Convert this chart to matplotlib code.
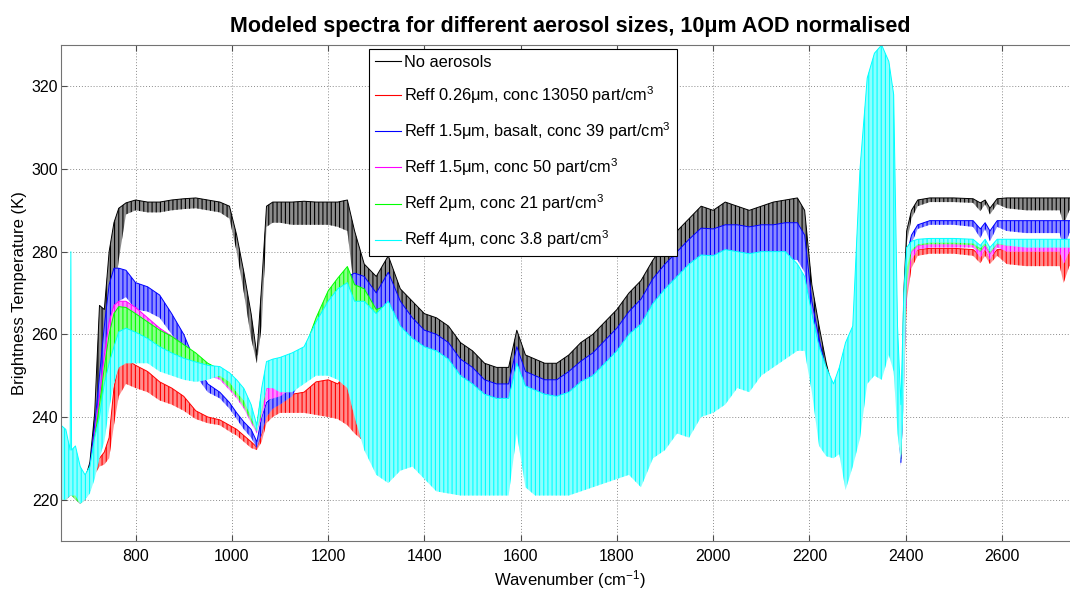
import matplotlib
matplotlib.use("Agg")
import matplotlib.pyplot as plt
from matplotlib.colors import to_rgb
from matplotlib.lines import Line2D

plt.rcParams["font.family"] = ["Liberation Sans", "DejaVu Sans"]
plt.rcParams["mathtext.fontset"] = "custom"
plt.rcParams["mathtext.rm"] = "Liberation Sans"
plt.rcParams["mathtext.it"] = "Liberation Sans:italic"
plt.rcParams["mathtext.bf"] = "Liberation Sans:bold"
plt.rcParams["hatch.linewidth"] = 0.8

# Wavenumber nodes (cm-1) where the upper / lower envelope of each spectrum was sampled
wavenumber = [
    645, 655, 664, 665.5, 667, 675, 685, 695, 705, 715,
    725, 735, 745, 755, 765, 780, 800, 825, 850, 875,
    900, 925, 950, 975, 995, 1010, 1025, 1040, 1052, 1062,
    1072, 1085, 1100, 1125, 1150, 1175, 1200, 1220, 1240, 1255,
    1275, 1300, 1325, 1350, 1375, 1400, 1425, 1450, 1475, 1500,
    1525, 1550, 1575, 1592, 1610, 1630, 1650, 1675, 1700, 1725,
    1750, 1775, 1800, 1825, 1850, 1875, 1900, 1925, 1950, 1975,
    2000, 2025, 2050, 2075, 2100, 2125, 2150, 2175, 2190, 2205,
    2220, 2235, 2250, 2262, 2275, 2290, 2305, 2320, 2335, 2350,
    2365, 2375, 2383, 2390, 2396, 2402, 2412, 2425, 2450, 2500,
    2540, 2555, 2565, 2575, 2590, 2610, 2650, 2700, 2720, 2728,
    2740, 2760,
]

# No aerosols
black_top = [
    232, 234, 230, 230, 230, 230, 226, 225, 229, 241,
    267, 266, 280, 287, 290.5, 291.8, 292.5, 292, 292, 292.5,
    292.8, 293, 292.5, 292, 291, 284, 275, 265, 255, 272,
    291, 292, 292, 292, 292.2, 292, 292, 292, 292.5, 285,
    277, 274, 279, 271, 268, 265, 264, 262, 258, 256,
    253, 252, 252, 261, 255, 254, 253, 253, 255, 258,
    260, 263, 266, 270, 273, 278, 282, 285, 288, 291,
    290, 292, 291, 290, 291, 292, 292.5, 293, 290, 272,
    262, 253, 246, 238, 236, 240, 250, 265, 270, 270,
    270, 265, 245, 230, 270, 285, 290, 292.5, 293, 293,
    292.8, 291.8, 292.5, 290.5, 292.8, 293, 293, 293, 293, 293,
    293, 293,
]
black_bot = [
    220, 220, 221, 221, 221, 220, 219, 220, 222, 226,
    240, 245, 258, 268, 278, 289, 290, 289.5, 289.5, 290,
    290.3, 290.5, 290, 289.5, 288, 280, 270, 259, 253, 262,
    286, 287, 287, 286.5, 286.5, 286.5, 286.5, 286, 285, 270,
    262, 262, 265, 262, 259, 256, 255, 253, 250, 248,
    246, 245, 245, 252, 248, 247, 246, 246, 247, 250,
    252, 255, 258, 262, 265, 269, 273, 276, 279, 282,
    282, 283, 283, 282, 283, 284, 284, 284, 280, 262,
    253, 244, 240, 235, 232, 236, 246, 260, 262, 262,
    264, 258, 240, 229, 250, 282, 288, 291, 292, 292,
    291.8, 289.8, 291.5, 289, 291.5, 290.5, 290, 290, 290, 286.5,
    290, 290,
]

# Reff 0.26um
red_top = [
    230, 232, 228, 228, 228, 228, 224, 223, 226, 229,
    230, 231.5, 235, 247, 253, 254, 252.5, 251, 248.5, 247,
    245, 241.5, 240, 239.3, 238, 237, 235.5, 234, 232.7, 236,
    241, 243.5, 245, 245.5, 246, 248.5, 249, 248, 251, 252.6,
    252, 250, 250, 249, 248, 246, 246, 245, 243, 242,
    240, 239.5, 239.5, 248, 242, 241, 240.5, 240, 241, 243,
    245, 248, 251, 255, 257.5, 262, 265.5, 268.5, 271.5, 273.5,
    273.5, 275, 274.5, 274, 274.5, 274.5, 274.5, 272, 269, 260,
    254, 248, 244, 241, 238, 242, 252, 266, 270, 270,
    270, 266, 246, 230, 255, 275, 279, 280.5, 280.8, 280.8,
    280.5, 279, 280.5, 278.5, 280.5, 280.5, 280.5, 280.5, 280.5, 280.5,
    280.5, 280.5,
]
red_bot = [
    220, 220, 221, 221, 221, 220, 219, 220, 222, 226,
    228, 228.5, 230, 238, 245, 248, 247, 246, 244, 243,
    241.5, 239.5, 238.5, 238, 236.5, 235.5, 234, 232.5, 232, 234,
    238.5, 240, 241, 241, 241, 240.5, 240, 239.5, 238, 236,
    234, 234, 229, 229, 230, 230, 236, 235, 233, 232,
    230, 229.5, 229.5, 238, 232, 231, 230.5, 230, 231, 233,
    235, 238, 241, 245, 247.5, 252, 255.5, 258.5, 261.5, 263.5,
    263.5, 265, 264.5, 264, 264.5, 264.5, 264.5, 262, 259, 252,
    248, 243, 238, 236, 232, 236, 246, 260, 262, 262,
    264, 258, 240, 229, 245, 268, 276, 279, 279.5, 279.5,
    279, 277.2, 279, 277, 279, 277, 276.5, 276.5, 276.5, 272.4,
    276.5, 276.5,
]

# Reff 1.5um, basalt
blue_top = [
    232, 234, 230, 230, 230, 230, 226, 225, 228, 238,
    250, 262, 272, 276, 276, 275.5, 272.5, 271.5, 269.5, 265,
    260, 253, 248, 246, 243.5, 241, 238.8, 237, 234, 240,
    243.5, 245, 246, 248.5, 256, 262, 268, 271, 274, 274.8,
    274, 270, 275, 268, 264, 261, 260, 258, 254, 252,
    249, 248, 248, 257, 251, 250, 249, 249, 251, 253.5,
    255.5, 258.5, 261.5, 265.5, 268.5, 273.5, 277, 280, 283, 285.7,
    285.5, 286.5, 286.5, 286, 286.5, 286.5, 287, 287, 284, 268,
    259, 251, 242, 238, 236, 240, 250, 265, 270, 270,
    270, 265, 245, 229, 260, 279, 284, 286.5, 287.5, 287.5,
    287.5, 285.5, 287, 285, 287.5, 287.5, 287.5, 287.5, 287.5, 287.5,
    287.5, 287.5,
]
blue_bot = [
    220, 220, 221, 221, 221, 220, 219, 220, 222, 226,
    235, 240, 250, 262, 268, 269, 266, 265.5, 264, 260,
    256, 250, 246, 244.5, 242, 239.5, 237, 235, 232.5, 236,
    240, 242, 243, 245, 250, 255, 260, 263, 266, 262,
    265, 261, 266, 259, 255, 252, 251, 249, 245, 243,
    240, 239, 239, 248, 242, 241, 240, 240, 242, 244.5,
    246.5, 249.5, 252.5, 256.5, 259.5, 264.5, 268, 271, 274, 276.7,
    276.5, 277.5, 277.5, 277, 277.5, 277.5, 278, 278, 275, 260,
    251, 243, 238, 235, 232, 236, 246, 260, 262, 262,
    264, 258, 240, 228, 245, 272, 282, 285.5, 286.5, 286.5,
    286, 283.3, 285.5, 282.5, 286, 285, 284.5, 284.5, 284.5, 280.5,
    284.5, 284.5,
]

# Reff 1.5um
magenta_top = [
    231, 233, 229, 229, 229, 229, 225, 224, 227, 236,
    245, 255, 263, 267, 268, 268, 266.5, 264, 261.5, 259.5,
    257.4, 255, 252, 250.5, 248.5, 246.5, 244, 240.5, 237.2, 243,
    246.9, 247.5, 248.2, 250.5, 255, 262, 268, 271, 273, 268.5,
    267, 264, 267, 261, 258, 256, 255, 253, 249, 247,
    244.5, 243.5, 243.5, 252, 246.5, 245.5, 244.5, 244, 245, 247.5,
    249, 252, 255, 259, 261.5, 266.5, 270, 273, 276, 278.2,
    278, 279.5, 279, 278.5, 279, 279, 279, 276, 273, 264,
    256, 250, 246, 242, 240, 244, 255, 268, 272, 272,
    272, 268, 248, 231, 258, 276, 280, 281.5, 282, 282,
    282, 280, 281.5, 279.5, 282, 282, 282, 282, 282, 282,
    282, 282,
]
magenta_bot = [
    220, 220, 221, 221, 221, 220, 219, 220, 222, 226,
    233, 240, 250, 258, 262, 263, 262, 260, 258, 256,
    254.5, 252.5, 250, 249, 246.5, 244.5, 242, 238.5, 236, 240,
    244, 244.5, 245, 247, 250, 256, 262, 266, 267, 262,
    263, 260, 263, 257, 254, 252, 251, 249, 245, 243,
    240.5, 239.5, 239.5, 248, 242.5, 241.5, 240.5, 240, 241, 243.5,
    245, 248, 251, 255, 257.5, 262.5, 266, 269, 272, 274.2,
    274, 275.5, 275, 274.5, 275, 275, 275, 272, 269, 260,
    252, 246, 242, 238, 236, 240, 250, 262, 266, 266,
    266, 262, 244, 230, 252, 270, 278, 280.5, 281, 281,
    281, 278.5, 280.5, 278, 281, 280, 280, 280, 280, 277,
    280, 280,
]

# Reff 2um
green_top = [
    231, 233, 229, 229, 229, 229, 225, 224, 227, 235,
    243, 252, 260, 265, 266.7, 266.5, 265, 263, 261, 259.5,
    257.5, 255.5, 253, 251.5, 249, 247, 245, 241, 238, 246,
    250, 251.5, 252.3, 253.4, 256, 264, 270.5, 273.6, 276.4, 272,
    271, 266, 267, 261, 258, 256, 255, 253, 249, 247,
    244.5, 243.5, 243.5, 252, 246.5, 245.5, 244.5, 244, 245, 247.5,
    249, 252, 255, 259, 261.5, 266.5, 270, 273, 276, 278.2,
    278, 279.5, 279, 278.5, 279, 279, 279, 276, 273, 264,
    256, 250, 246, 242, 240, 244, 255, 268, 272, 272,
    272, 268, 248, 231, 258, 278, 281.5, 282.3, 282.5, 282.5,
    282.3, 280.8, 282.3, 280.3, 282.5, 282.5, 282.5, 282.5, 282.5, 282.5,
    282.5, 282.5,
]
green_bot = [
    220, 220, 221, 221, 221, 220, 219, 220, 222, 226,
    232, 238, 248, 255, 258, 258, 257, 256, 255, 254,
    253, 252, 250.5, 249.5, 247, 245, 242.5, 239, 236.5, 241,
    247, 248.5, 249, 250, 252, 258, 264, 268, 270, 264,
    264, 260, 263, 257, 254, 252, 251, 249, 245, 243,
    240.5, 239.5, 239.5, 248, 242.5, 241.5, 240.5, 240, 241, 243.5,
    245, 248, 251, 255, 257.5, 262.5, 266, 269, 272, 274.2,
    274, 275.5, 275, 274.5, 275, 275, 275, 272, 269, 260,
    252, 246, 242, 238, 236, 240, 250, 262, 266, 266,
    266, 262, 244, 230, 252, 272, 280, 281.5, 281.8, 281.8,
    281.6, 280, 281.6, 279.6, 281.8, 281.5, 281.5, 281.5, 281.5, 281.5,
    281.5, 281.5,
]

# Reff 4um
cyan_top = [
    238, 237, 232, 280, 232, 233, 228, 226, 228, 235,
    240, 248, 253, 257, 260.6, 261.5, 260.5, 259, 257, 255.5,
    254.2, 253.3, 252.5, 252.2, 250.7, 249, 246.9, 243, 238, 247,
    253.4, 254, 254.4, 255.5, 257, 263, 268, 271, 272.5, 268,
    268, 265, 268, 262, 259, 257, 256, 254, 250, 248,
    245.5, 244.5, 244.5, 253, 247.5, 246.5, 245.5, 245, 246, 248.5,
    250, 253, 256, 260, 262.5, 267.5, 271, 274, 277, 279.2,
    279, 280.5, 280, 279.5, 280, 280, 280, 277, 274, 265,
    257, 252, 248, 252, 258, 262, 300, 322, 328, 330,
    326, 318, 262, 243, 270, 281, 282.5, 283, 283.2, 283.2,
    283, 281.5, 283, 281, 283, 283, 283, 283, 283, 283,
    283, 283,
]
cyan_bot = [
    220, 220, 221, 221, 221, 221, 219, 220, 221.5, 225,
    230, 234, 242, 248, 252, 253, 253, 253, 251, 250,
    249, 248.5, 249, 250, 248.5, 246, 244, 240, 236.5, 242,
    247, 247, 246, 246, 248, 250, 250, 249, 247, 240,
    232, 226, 224, 227, 228, 225, 222, 221.5, 221, 221,
    221, 221, 221, 236, 223, 221, 221, 221, 221, 222,
    223, 224, 225, 226, 223, 230, 232, 236, 235, 240,
    241, 243, 247, 246, 250, 252, 254, 256, 256, 246,
    233, 230.5, 230, 231, 222.3, 228, 234.8, 248, 250, 249,
    255, 251, 236, 229, 243, 276, 280.5, 281.8, 282.2, 282.2,
    282, 280.8, 282, 280, 282, 281.5, 281, 281, 281, 281,
    281, 281,
]

labels = [
    "No aerosols",
    "Reff 0.26\u03bcm, conc 13050 part/cm$^3$",
    "Reff 1.5\u03bcm, basalt, conc 39 part/cm$^3$",
    "Reff 1.5\u03bcm, conc 50 part/cm$^3$",
    "Reff 2\u03bcm, conc 21 part/cm$^3$",
    "Reff 4\u03bcm, conc 3.8 part/cm$^3$",
]
colors = ["black", "red", "blue", "magenta", "lime", "cyan"]
series = [
    (black_top, black_bot),
    (red_top, red_bot),
    (blue_top, blue_bot),
    (magenta_top, magenta_bot),
    (green_top, green_bot),
    (cyan_top, cyan_bot),
]


def lighten(c, amount):
    r, g, b = to_rgb(c)
    return (r + (1 - r) * amount, g + (1 - g) * amount, b + (1 - b) * amount)


fig = plt.figure(figsize=(10.7, 5.96), dpi=100)
ax = fig.add_axes([0.057, 0.0923, 0.9514, 0.8322])

# dense absorption lines: pale band between peak and trough envelopes,
# hatched with vertical strokes; later spectra drawn over earlier ones
for i, ((top, bot), c) in enumerate(zip(series, colors)):
    ax.fill_between(wavenumber, bot, top, facecolor=lighten(c, 0.55),
                    edgecolor=c, hatch="||||", lw=0, zorder=2 + 2 * i)
    ax.plot(wavenumber, top, color=c, lw=0.7, zorder=3 + 2 * i)

ax.set_xlim(645, 2760)
ax.set_ylim(210, 330)
ax.set_xticks(range(800, 2601, 200))
ax.set_yticks(range(220, 321, 20))
ax.grid(True, linestyle=(0, (1, 2)), color="0.55", lw=0.7)
ax.set_axisbelow(True)
ax.tick_params(direction="in", length=4, width=0.8, color="0.3",
               top=True, right=True, labelsize=11.5)
ax.tick_params(axis="x", pad=6)
ax.tick_params(axis="y", pad=2)
for sp in ax.spines.values():
    sp.set_color("0.45")
    sp.set_zorder(30)

ax.set_xlabel("Wavenumber (cm$^{-1}$)", fontsize=12, labelpad=3)
ax.set_ylabel("Brightness Temperature (K)", fontsize=12, labelpad=3)
ax.set_title("Modeled spectra for different aerosol sizes, 10\u03bcm AOD normalised",
             fontsize=15.5, fontweight="bold", pad=9)

handles = [Line2D([], [], color=c, lw=0.8) for c in colors]
leg = ax.legend(handles, labels, loc="upper left", bbox_to_anchor=(0.3026, 0.9919),
                borderaxespad=0, fancybox=False, framealpha=1, edgecolor="black",
                fontsize=11.8, handlelength=1.6, handletextpad=0.2,
                labelspacing=0.88, borderpad=0.35)
leg.get_frame().set_linewidth(0.8)
leg.set_zorder(40)

fig.savefig("out.png", dpi=100)
